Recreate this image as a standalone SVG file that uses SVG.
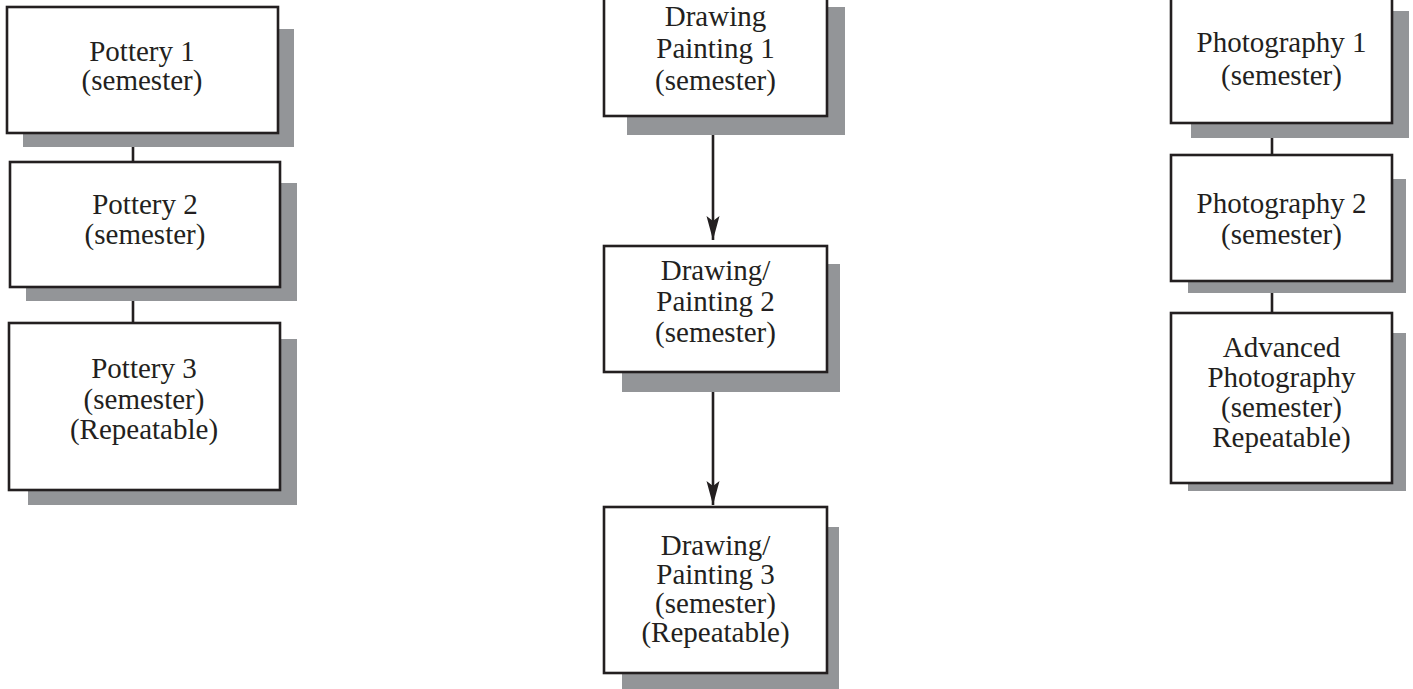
<svg xmlns="http://www.w3.org/2000/svg" width="1413" height="689" viewBox="0 0 1413 689">
<style>
.shadow{fill:#939598;stroke:none}
.box{fill:#ffffff;stroke:#231f20;stroke-width:2.6}
.lbl{font-family:"Liberation Serif","Times New Roman",serif;font-size:29px;fill:#231f20;text-anchor:middle}
.conn{stroke:#231f20;stroke-width:2.6;fill:none}
</style>
<defs>
<marker id="arrow" markerUnits="userSpaceOnUse" markerWidth="26" markerHeight="14" refX="24" refY="7" orient="auto" viewBox="0 0 26 14">
<path d="M24,7 L0,0.5 L5,7 L0,13.5 Z" fill="#231f20"/>
</marker>
</defs>
<rect width="1413" height="689" fill="#ffffff"/>
<g id="connectors">
<line class="conn" x1="133" y1="133" x2="133" y2="162"/>
<line class="conn" x1="133" y1="287" x2="133" y2="323"/>
<line class="conn" x1="1272" y1="123" x2="1272" y2="155"/>
<line class="conn" x1="1272" y1="281" x2="1272" y2="313"/>
<line class="conn" x1="713" y1="116" x2="713" y2="240" marker-end="url(#arrow)"/>
<line class="conn" x1="713" y1="372" x2="713" y2="505" marker-end="url(#arrow)"/>
</g>
<g id="pottery1">
<rect class="shadow" x="23" y="29" width="271" height="118"/>
<rect class="box" x="7" y="7" width="271" height="126"/>
<text class="lbl" x="142" y="61">Pottery 1</text>
<text class="lbl" x="142" y="90">(semester)</text>
</g>
<g id="pottery2">
<rect class="shadow" x="26" y="183" width="271" height="118"/>
<rect class="box" x="10" y="162" width="270" height="125"/>
<text class="lbl" x="145" y="214">Pottery 2</text>
<text class="lbl" x="145" y="244">(semester)</text>
</g>
<g id="pottery3">
<rect class="shadow" x="28" y="339" width="269" height="166"/>
<rect class="box" x="9" y="323" width="271" height="167"/>
<text class="lbl" x="144" y="378">Pottery 3</text>
<text class="lbl" x="144" y="409">(semester)</text>
<text class="lbl" x="144" y="439">(Repeatable)</text>
</g>
<g id="drawing1">
<rect class="shadow" x="627" y="7" width="218" height="128"/>
<rect class="box" x="604" y="-4" width="223" height="120"/>
<text class="lbl" x="715.5" y="26">Drawing</text>
<text class="lbl" x="715.5" y="58">Painting 1</text>
<text class="lbl" x="715.5" y="90">(semester)</text>
</g>
<g id="drawing2">
<rect class="shadow" x="622" y="264" width="218" height="128"/>
<rect class="box" x="604" y="246" width="223" height="126"/>
<text class="lbl" x="715.5" y="280">Drawing/</text>
<text class="lbl" x="715.5" y="311">Painting 2</text>
<text class="lbl" x="715.5" y="342">(semester)</text>
</g>
<g id="drawing3">
<rect class="shadow" x="622" y="527" width="217" height="162"/>
<rect class="box" x="604" y="507" width="223" height="166"/>
<text class="lbl" x="715.5" y="555">Drawing/</text>
<text class="lbl" x="715.5" y="584">Painting 3</text>
<text class="lbl" x="715.5" y="613">(semester)</text>
<text class="lbl" x="715.5" y="642">(Repeatable)</text>
</g>
<g id="photo1">
<rect class="shadow" x="1191" y="11" width="218" height="127"/>
<rect class="box" x="1171" y="-4" width="221" height="127"/>
<text class="lbl" x="1281.5" y="52">Photography 1</text>
<text class="lbl" x="1281.5" y="85">(semester)</text>
</g>
<g id="photo2">
<rect class="shadow" x="1188" y="179" width="218" height="114"/>
<rect class="box" x="1171" y="155" width="221" height="126"/>
<text class="lbl" x="1281.5" y="213">Photography 2</text>
<text class="lbl" x="1281.5" y="244">(semester)</text>
</g>
<g id="photo3">
<rect class="shadow" x="1188" y="333" width="218" height="158"/>
<rect class="box" x="1171" y="313" width="221" height="170"/>
<text class="lbl" x="1281.5" y="357">Advanced</text>
<text class="lbl" x="1281.5" y="387">Photography</text>
<text class="lbl" x="1281.5" y="417">(semester)</text>
<text class="lbl" x="1281.5" y="447">Repeatable)</text>
</g>
</svg>
